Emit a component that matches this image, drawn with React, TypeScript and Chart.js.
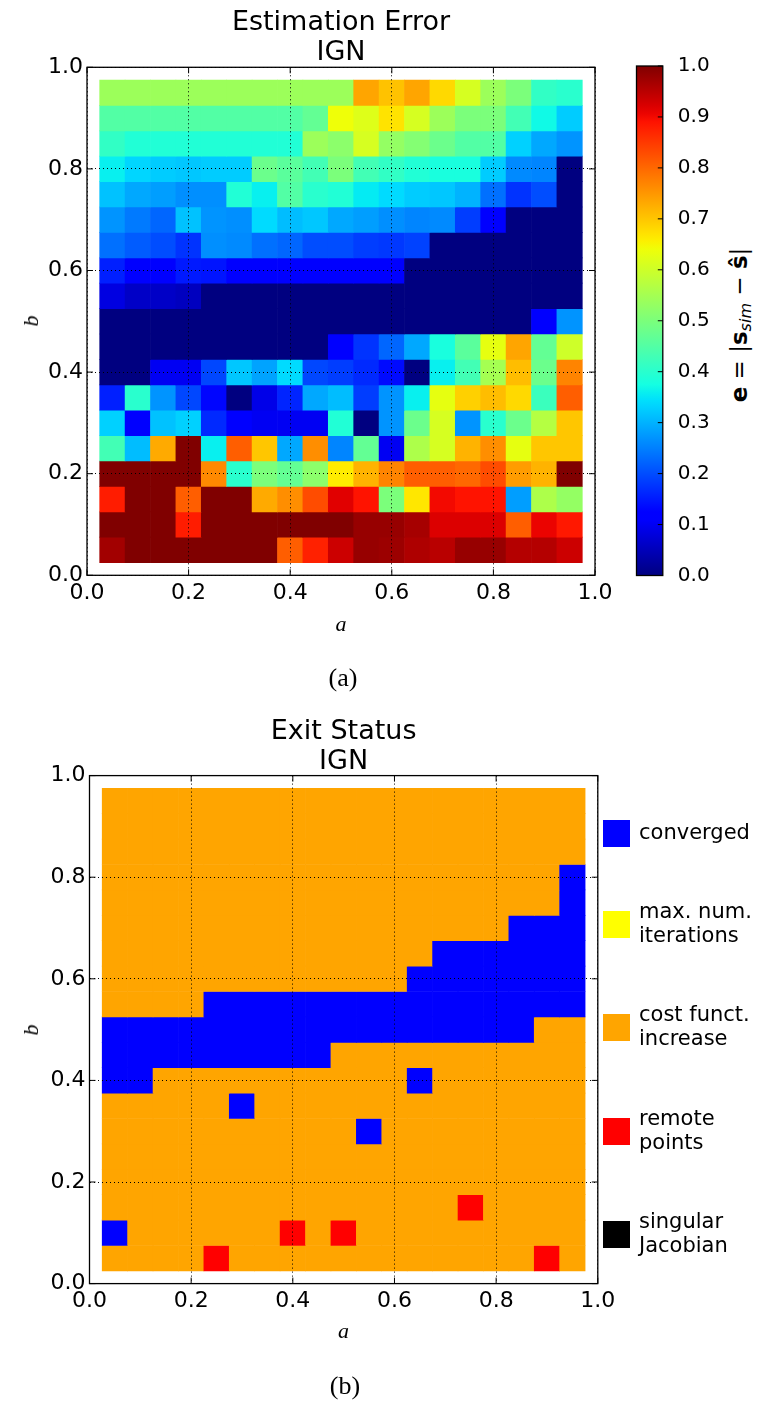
import React, { useEffect, useRef } from 'react';
import { Chart, registerables } from 'chart.js';

Chart.register(...registerables);

// ---------------- data ----------------
const aValues = [0.05, 0.1, 0.15, 0.2, 0.25, 0.3, 0.35, 0.4, 0.45, 0.5, 0.55, 0.6, 0.65, 0.7, 0.75, 0.8, 0.85, 0.9, 0.95];
// rows listed from top (b = 0.95) to bottom (b = 0.05)
const bValues = [0.95, 0.9, 0.85, 0.8, 0.75, 0.7, 0.65, 0.6, 0.55, 0.5, 0.45, 0.4, 0.35, 0.3, 0.25, 0.2, 0.15, 0.1, 0.05];
const cellStep = 0.05;
const axisTickStep = 0.2;
const colorbarTickStep = 0.1;

const estimationError: number[][] = [
  [0.54, 0.54, 0.54, 0.54, 0.54, 0.54, 0.54, 0.54, 0.54, 0.54, 0.735, 0.705, 0.735, 0.68, 0.61, 0.54, 0.5, 0.41, 0.4],
  [0.45, 0.45, 0.45, 0.45, 0.45, 0.45, 0.45, 0.45, 0.47, 0.64, 0.62, 0.67, 0.61, 0.54, 0.5, 0.5, 0.43, 0.37, 0.325],
  [0.41, 0.39, 0.39, 0.39, 0.39, 0.39, 0.39, 0.39, 0.54, 0.52, 0.61, 0.53, 0.51, 0.48, 0.45, 0.45, 0.33, 0.29, 0.27],
  [0.36, 0.335, 0.325, 0.32, 0.325, 0.325, 0.48, 0.46, 0.43, 0.5, 0.43, 0.41, 0.39, 0.38, 0.38, 0.325, 0.26, 0.255, 0.0],
  [0.315, 0.29, 0.28, 0.265, 0.265, 0.39, 0.36, 0.45, 0.4, 0.39, 0.355, 0.34, 0.325, 0.32, 0.3, 0.235, 0.175, 0.2, 0.0],
  [0.27, 0.245, 0.225, 0.315, 0.27, 0.265, 0.34, 0.31, 0.32, 0.29, 0.28, 0.265, 0.255, 0.26, 0.185, 0.12, 0.0, 0.0, 0.0],
  [0.235, 0.215, 0.2, 0.175, 0.265, 0.26, 0.235, 0.225, 0.2, 0.2, 0.185, 0.18, 0.19, 0.0, 0.0, 0.0, 0.0, 0.0, 0.0],
  [0.155, 0.12, 0.12, 0.15, 0.145, 0.11, 0.11, 0.11, 0.11, 0.11, 0.11, 0.11, 0.0, 0.0, 0.0, 0.0, 0.0, 0.0, 0.0],
  [0.084, 0.062, 0.062, 0.055, 0.0, 0.0, 0.0, 0.0, 0.0, 0.0, 0.0, 0.0, 0.0, 0.0, 0.0, 0.0, 0.0, 0.0, 0.0],
  [0.0, 0.0, 0.0, 0.0, 0.0, 0.0, 0.0, 0.0, 0.0, 0.0, 0.0, 0.0, 0.0, 0.0, 0.0, 0.0, 0.0, 0.11, 0.27],
  [0.0, 0.0, 0.0, 0.0, 0.0, 0.0, 0.0, 0.0, 0.0, 0.11, 0.175, 0.225, 0.29, 0.38, 0.46, 0.63, 0.735, 0.47, 0.6],
  [0.0, 0.0, 0.1, 0.1, 0.195, 0.32, 0.285, 0.34, 0.195, 0.185, 0.165, 0.135, 0.0, 0.36, 0.43, 0.55, 0.71, 0.48, 0.77],
  [0.155, 0.4, 0.27, 0.195, 0.13, 0.0, 0.09, 0.16, 0.29, 0.31, 0.185, 0.27, 0.36, 0.63, 0.69, 0.71, 0.68, 0.42, 0.81],
  [0.33, 0.11, 0.315, 0.33, 0.165, 0.11, 0.1, 0.1, 0.1, 0.39, 0.0, 0.27, 0.48, 0.61, 0.27, 0.4, 0.48, 0.57, 0.7],
  [0.43, 0.31, 0.73, 1.0, 0.36, 0.81, 0.7, 0.29, 0.76, 0.255, 0.47, 0.1, 0.56, 0.61, 0.72, 0.76, 0.63, 0.7, 0.7],
  [1.0, 1.0, 1.0, 1.0, 0.765, 0.4, 0.5, 0.47, 0.52, 0.66, 0.72, 0.77, 0.81, 0.81, 0.8, 0.83, 0.745, 0.72, 1.0],
  [0.88, 1.0, 1.0, 0.81, 1.0, 1.0, 0.73, 0.76, 0.83, 0.916, 0.89, 0.5, 0.665, 0.9, 0.89, 0.89, 0.28, 0.56, 0.53],
  [1.0, 1.0, 1.0, 0.88, 1.0, 1.0, 1.0, 1.0, 1.0, 1.0, 0.98, 0.98, 0.967, 0.92, 0.92, 0.92, 0.81, 0.907, 0.885],
  [0.97, 1.0, 1.0, 1.0, 1.0, 1.0, 1.0, 0.81, 0.875, 0.934, 0.98, 0.975, 0.96, 0.95, 0.98, 0.98, 0.955, 0.955, 0.934],
];

// 0 converged, 1 max. num. iterations, 2 cost funct. increase, 3 remote points, 4 singular Jacobian
const exitStatus: number[][] = [
  [2, 2, 2, 2, 2, 2, 2, 2, 2, 2, 2, 2, 2, 2, 2, 2, 2, 2, 2],
  [2, 2, 2, 2, 2, 2, 2, 2, 2, 2, 2, 2, 2, 2, 2, 2, 2, 2, 2],
  [2, 2, 2, 2, 2, 2, 2, 2, 2, 2, 2, 2, 2, 2, 2, 2, 2, 2, 2],
  [2, 2, 2, 2, 2, 2, 2, 2, 2, 2, 2, 2, 2, 2, 2, 2, 2, 2, 0],
  [2, 2, 2, 2, 2, 2, 2, 2, 2, 2, 2, 2, 2, 2, 2, 2, 2, 2, 0],
  [2, 2, 2, 2, 2, 2, 2, 2, 2, 2, 2, 2, 2, 2, 2, 2, 0, 0, 0],
  [2, 2, 2, 2, 2, 2, 2, 2, 2, 2, 2, 2, 2, 0, 0, 0, 0, 0, 0],
  [2, 2, 2, 2, 2, 2, 2, 2, 2, 2, 2, 2, 0, 0, 0, 0, 0, 0, 0],
  [2, 2, 2, 2, 0, 0, 0, 0, 0, 0, 0, 0, 0, 0, 0, 0, 0, 0, 0],
  [0, 0, 0, 0, 0, 0, 0, 0, 0, 0, 0, 0, 0, 0, 0, 0, 0, 2, 2],
  [0, 0, 0, 0, 0, 0, 0, 0, 0, 2, 2, 2, 2, 2, 2, 2, 2, 2, 2],
  [0, 0, 2, 2, 2, 2, 2, 2, 2, 2, 2, 2, 0, 2, 2, 2, 2, 2, 2],
  [2, 2, 2, 2, 2, 0, 2, 2, 2, 2, 2, 2, 2, 2, 2, 2, 2, 2, 2],
  [2, 2, 2, 2, 2, 2, 2, 2, 2, 2, 0, 2, 2, 2, 2, 2, 2, 2, 2],
  [2, 2, 2, 2, 2, 2, 2, 2, 2, 2, 2, 2, 2, 2, 2, 2, 2, 2, 2],
  [2, 2, 2, 2, 2, 2, 2, 2, 2, 2, 2, 2, 2, 2, 2, 2, 2, 2, 2],
  [2, 2, 2, 2, 2, 2, 2, 2, 2, 2, 2, 2, 2, 2, 3, 2, 2, 2, 2],
  [0, 2, 2, 2, 2, 2, 2, 3, 2, 3, 2, 2, 2, 2, 2, 2, 2, 2, 2],
  [2, 2, 2, 2, 3, 2, 2, 2, 2, 2, 2, 2, 2, 2, 2, 2, 2, 3, 2],
];

const statusColors = ['#0000ff', '#ffff00', '#ffa500', '#ff0000', '#000000'];
const statusLabels = [['converged'], ['max. num.', 'iterations'], ['cost funct.', 'increase'], ['remote', 'points'], ['singular', 'Jacobian']];

// ---------------- colour map (matplotlib jet) ----------------
const JET_R = [[0, 0], [0.35, 0], [0.66, 1], [0.89, 1], [1, 0.5]];
const JET_G = [[0, 0], [0.125, 0], [0.375, 1], [0.64, 1], [0.91, 0], [1, 0]];
const JET_B = [[0, 0.5], [0.11, 1], [0.34, 1], [0.65, 0], [1, 0]];

function seg(points: number[][], v: number): number {
  for (let i = 1; i < points.length; i++) {
    const [x0, y0] = points[i - 1];
    const [x1, y1] = points[i];
    if (v <= x1) return y0 + ((y1 - y0) * (v - x0)) / (x1 - x0);
  }
  return points[points.length - 1][1];
}
function jet(value: number): string {
  const v = Math.max(0, Math.min(1, value));
  const r = Math.round(255 * seg(JET_R, v));
  const g = Math.round(255 * seg(JET_G, v));
  const b = Math.round(255 * seg(JET_B, v));
  return `rgb(${r},${g},${b})`;
}

// ---------------- chart helpers ----------------
function heatDatasets(grid: number[][], colorOf: (v: number) => string) {
  return grid.map((row, r) => ({
    data: row.map((_v, c) => ({ x: aValues[c], y: [bValues[r] - cellStep / 2, bValues[r] + cellStep / 2] })),
    backgroundColor: row.map(colorOf),
    borderWidth: 0,
    barPercentage: 1,
    categoryPercentage: 1,
    grouped: false,
  }));
}

const fmt = (v: any) => Number(v).toFixed(1);

const framePlugin = {
  id: 'frame',
  afterDraw(chart: any, _args: any, opts: any) {
    const { ctx, chartArea } = chart;
    const { left, right, top, bottom } = chartArea;
    const len = opts.tickLength || 6;
    ctx.save();
    ctx.strokeStyle = '#000';
    ctx.lineWidth = 1;
    const line = (x1: number, y1: number, x2: number, y2: number) => {
      ctx.beginPath();
      ctx.moveTo(x1, y1);
      ctx.lineTo(x2, y2);
      ctx.stroke();
    };
    if (opts.colorbar) {
      const ys = chart.scales.y;
      ys.ticks.forEach((t: any) => {
        const py = ys.getPixelForValue(t.value);
        line(right, py, right - len, py);
      });
    } else {
      const xs = chart.scales.x;
      const ys = chart.scales.y;
      xs.ticks.forEach((t: any) => {
        const px = xs.getPixelForValue(t.value);
        line(px, bottom, px, bottom - len);
        line(px, top, px, top + len);
      });
      ys.ticks.forEach((t: any) => {
        const py = ys.getPixelForValue(t.value);
        line(left, py, left + len, py);
        line(right, py, right - len, py);
      });
    }
    ctx.lineWidth = 1.3;
    ctx.strokeRect(left, top, right - left, bottom - top);
    ctx.restore();
  },
};

const tickFont = { family: '"DejaVu Sans"', size: 22 };

function heatConfig(datasets: any[], pad: any, yWidth: number, xHeight: number): any {
  return {
    type: 'bar',
    data: { datasets },
    plugins: [framePlugin],
    options: {
      animation: false,
      responsive: false,
      events: [],
      layout: { padding: pad },
      plugins: { legend: { display: false }, tooltip: { enabled: false }, title: { display: false }, frame: { tickLength: 6 } },
      scales: {
        x: {
          type: 'linear',
          min: 0,
          max: 1,
          offset: false,
          grid: { color: '#000', lineWidth: 1, z: 1, drawTicks: false, offset: false },
          border: { display: false, dash: [1, 3] },
          ticks: { stepSize: axisTickStep, color: '#000', font: tickFont, padding: 4.5, maxRotation: 0, autoSkip: false, callback: fmt },
          afterFit: (s: any) => {
            s.height = xHeight;
          },
        },
        y: {
          type: 'linear',
          min: 0,
          max: 1,
          grid: { color: '#000', lineWidth: 1, z: 1, drawTicks: false },
          border: { display: false, dash: [1, 3] },
          ticks: { stepSize: axisTickStep, color: '#000', font: tickFont, padding: 4, autoSkip: false, callback: fmt },
          afterFit: (s: any) => {
            s.width = yWidth;
          },
        },
      },
    },
  };
}

function colorbarConfig(): any {
  return {
    type: 'bar',
    data: {
      labels: ['e'],
      datasets: [
        {
          data: [[0, 1]],
          backgroundColor: (c: any) => {
            const area = c.chart.chartArea;
            if (!area) return jet(0.5);
            const g = c.chart.ctx.createLinearGradient(0, area.bottom, 0, area.top);
            for (let i = 0; i <= 64; i++) g.addColorStop(i / 64, jet(i / 64));
            return g;
          },
          borderWidth: 0,
          barPercentage: 1,
          categoryPercentage: 1,
        },
      ],
    },
    plugins: [framePlugin],
    options: {
      animation: false,
      responsive: false,
      events: [],
      layout: { padding: { left: 36.5, right: 0, top: 66, bottom: 44.5 } },
      plugins: { legend: { display: false }, tooltip: { enabled: false }, frame: { colorbar: true, tickLength: 5 } },
      scales: {
        x: { display: false },
        y: {
          position: 'right',
          min: 0,
          max: 1,
          grid: { display: false },
          border: { display: false },
          ticks: { stepSize: colorbarTickStep, color: '#000', font: { family: '"DejaVu Sans"', size: 20 }, padding: 7, autoSkip: false, callback: fmt },
          afterFit: (s: any) => {
            s.width = 47.2;
          },
        },
      },
    },
  };
}

// ---------------- text helper ----------------
function Txt(props: { x: number; y: number; size: number; family?: string; italic?: boolean; rotate?: boolean; children: React.ReactNode }) {
  const { x, y, size, family = '"DejaVu Sans"', italic, rotate, children } = props;
  return (
    <div
      style={{
        position: 'absolute',
        left: x,
        top: y,
        transform: `translate(-50%,-50%)${rotate ? ' rotate(-90deg)' : ''}`,
        fontFamily: family,
        fontSize: size,
        fontStyle: italic ? 'italic' : 'normal',
        lineHeight: 1,
        whiteSpace: 'nowrap',
        color: '#000',
      }}
    >
      {children}
    </div>
  );
}

const SERIF = '"Liberation Serif", "DejaVu Serif", serif';
const legendCenters = [833, 924.5, 1027, 1131.5, 1234.5];

export default function App() {
  const topRef = useRef<HTMLCanvasElement>(null);
  const barRef = useRef<HTMLCanvasElement>(null);
  const botRef = useRef<HTMLCanvasElement>(null);

  useEffect(() => {
    const charts: Chart[] = [];
    if (topRef.current)
      charts.push(
        new Chart(topRef.current, heatConfig(heatDatasets(estimationError, jet), { left: 0, top: 67.3, right: 45, bottom: 4.7 }, 87, 40))
      );
    if (barRef.current) charts.push(new Chart(barRef.current, colorbarConfig()));
    if (botRef.current)
      charts.push(
        new Chart(
          botRef.current,
          heatConfig(heatDatasets(exitStatus, (s) => statusColors[s]), { left: 0, top: 75.6, right: 42.2, bottom: 16.4 }, 89.5, 40)
        )
      );
    return () => charts.forEach((c) => c.destroy());
  }, []);

  return (
    <div style={{ position: 'absolute', left: 0, top: 0, width: 758, height: 1408, background: '#fff', overflow: 'hidden' }}>
      <canvas ref={topRef} width={640} height={620} style={{ position: 'absolute', left: 0, top: 0, width: 640, height: 620 }} />
      <canvas ref={barRef} width={110} height={620} style={{ position: 'absolute', left: 600, top: 0, width: 110, height: 620 }} />
      <canvas ref={botRef} width={640} height={640} style={{ position: 'absolute', left: 0, top: 700, width: 640, height: 640 }} />

      {/* (a) */}
      <Txt x={341} y={20.3} size={27}>Estimation Error</Txt>
      <Txt x={341} y={50.3} size={27}>IGN</Txt>
      <Txt x={31} y={321} size={22} family={SERIF} italic rotate>b</Txt>
      <Txt x={341} y={623.6} size={22} family={SERIF} italic>a</Txt>
      <Txt x={343} y={678} size={26} family={SERIF}>(a)</Txt>
      <Txt x={741} y={325} size={23} rotate>
        <b>e</b> = |<b>s</b>
        <sub style={{ fontSize: 16, fontStyle: 'italic', verticalAlign: '-0.3em' }}>sim</sub>
        {' '}− <b>ŝ</b>|
      </Txt>

      {/* (b) */}
      <Txt x={343.6} y={728.6} size={27}>Exit Status</Txt>
      <Txt x={343.6} y={758.6} size={27}>IGN</Txt>
      <Txt x={31} y={1030} size={22} family={SERIF} italic rotate>b</Txt>
      <Txt x={343.6} y={1331} size={22} family={SERIF} italic>a</Txt>
      <Txt x={345} y={1386} size={26} family={SERIF}>(b)</Txt>

      {statusLabels.map((lines, i) => (
        <React.Fragment key={i}>
          <div
            style={{ position: 'absolute', left: 603, top: legendCenters[i] - 13.5, width: 27, height: 27, background: statusColors[i] }}
          />
          <div
            style={{
              position: 'absolute',
              left: 639,
              top: legendCenters[i] - 1.5,
              transform: 'translateY(-50%)',
              fontFamily: '"DejaVu Sans"',
              fontSize: 21,
              lineHeight: '24px',
              whiteSpace: 'nowrap',
              color: '#000',
            }}
          >
            {lines.map((l, j) => (
              <div key={j}>{l}</div>
            ))}
          </div>
        </React.Fragment>
      ))}
    </div>
  );
}
